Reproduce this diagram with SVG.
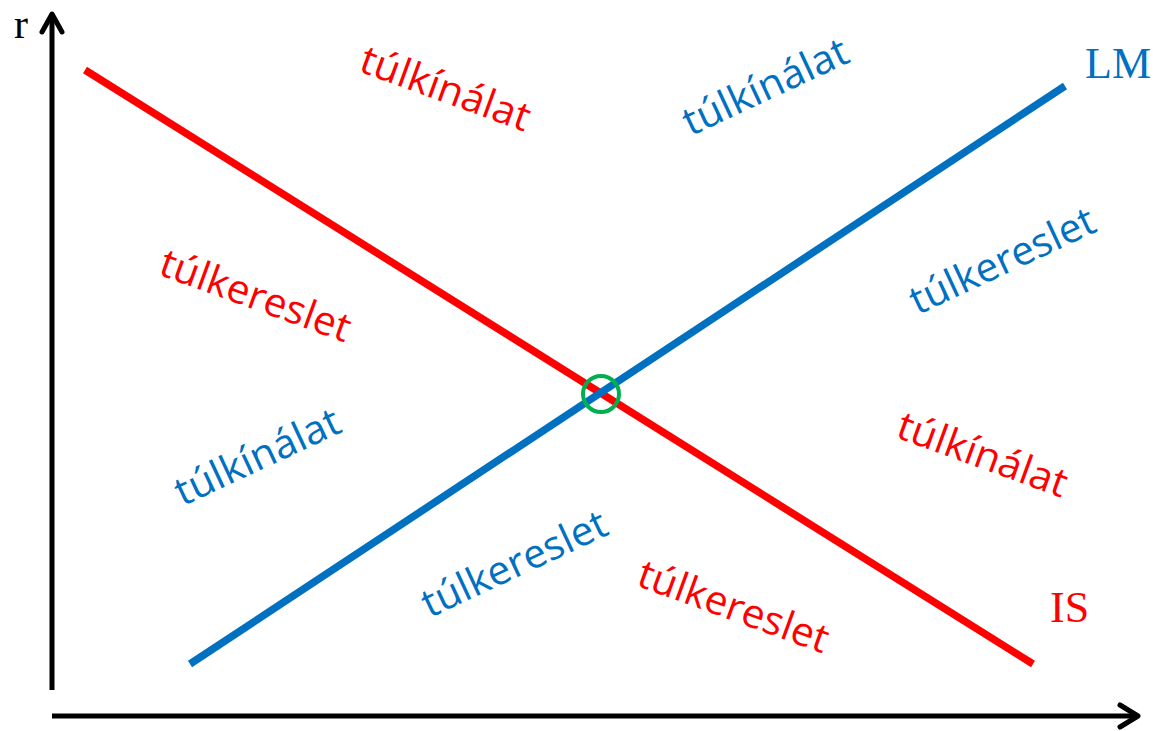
<svg xmlns="http://www.w3.org/2000/svg" width="1159" height="731" viewBox="0 0 1159 731">
<style>
.ax{stroke:#000;stroke-width:5;fill:none}
.arr{stroke:#000;stroke-width:5;fill:none;stroke-linecap:round;stroke-linejoin:round}
.t{font-family:"Open Sans","Noto Sans",sans-serif;font-size:40px;text-anchor:middle}
.red{fill:#ff0000}
.blue{fill:#0070c0}
.ser{font-family:"Liberation Serif",serif}
</style>
<rect width="1159" height="731" fill="#fff"/>
<g id="axes">
<line class="ax" x1="52" y1="690" x2="52" y2="16"/>
<polyline class="arr" points="42,32 52,14 62,32"/>
<line class="ax" x1="52" y1="716" x2="1136" y2="716"/>
<polyline class="arr" points="1120,705 1138,716 1120,727"/>
<text class="ser" x="14" y="38" font-size="42" fill="#000">r</text>
</g>
<g id="connectors">
<line id="IS" x1="85" y1="70" x2="1033" y2="664" stroke="#ff0000" stroke-width="7.5"/>
<line id="LM" x1="190" y1="664" x2="1065" y2="86" stroke="#0070c0" stroke-width="7.5"/>
</g>
<g id="equilibrium">
<circle cx="601" cy="394" r="18" fill="none" stroke="#00b050" stroke-width="4"/>
</g>
<g id="label-LM"><text class="ser blue" x="1085" y="78" font-size="44">LM</text></g>
<g id="label-IS"><text class="ser red" x="1050" y="622" font-size="44">IS</text></g>
<g id="t1"><text class="t red" transform="translate(445,90) rotate(20)" y="12" textLength="178" lengthAdjust="spacingAndGlyphs">túlkínálat</text></g>
<g id="t2"><text class="t blue" transform="translate(766,88) rotate(-25)" y="12" textLength="178" lengthAdjust="spacingAndGlyphs">túlkínálat</text></g>
<g id="t3"><text class="t red" transform="translate(255,297) rotate(20)" y="12" textLength="200" lengthAdjust="spacingAndGlyphs">túlkereslet</text></g>
<g id="t4"><text class="t blue" transform="translate(1003,262) rotate(-25)" y="12" textLength="200" lengthAdjust="spacingAndGlyphs">túlkereslet</text></g>
<g id="t5"><text class="t blue" transform="translate(258,458) rotate(-25)" y="12" textLength="178" lengthAdjust="spacingAndGlyphs">túlkínálat</text></g>
<g id="t6"><text class="t red" transform="translate(982,456) rotate(20)" y="12" textLength="178" lengthAdjust="spacingAndGlyphs">túlkínálat</text></g>
<g id="t7"><text class="t blue" transform="translate(515,565) rotate(-25)" y="12" textLength="200" lengthAdjust="spacingAndGlyphs">túlkereslet</text></g>
<g id="t8"><text class="t red" transform="translate(733,608) rotate(20)" y="12" textLength="200" lengthAdjust="spacingAndGlyphs">túlkereslet</text></g>
</svg>
